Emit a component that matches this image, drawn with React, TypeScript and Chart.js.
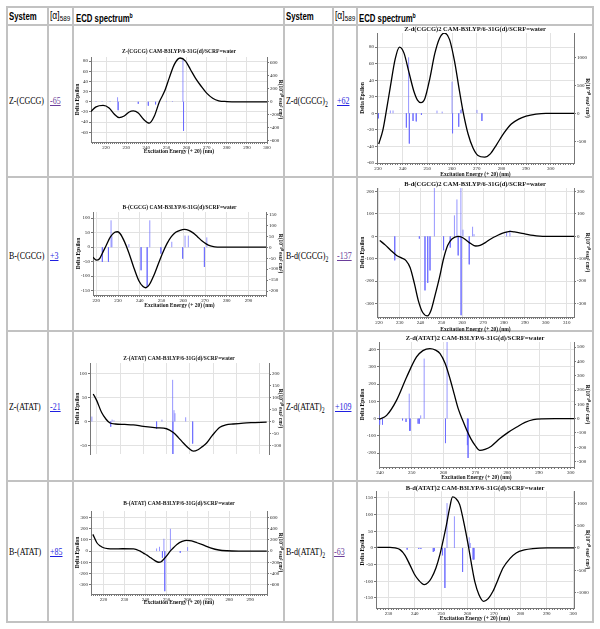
import React, { useEffect, useRef } from "react";
import { Chart, registerables } from "chart.js";
Chart.register(...registerables);

const SERIF = "'Liberation Serif', 'Times New Roman', serif";
const SANS = "'Liberation Sans', Arial, sans-serif";

// ---------- table content ----------
const leftSystems = ["Z-(CGCG)", "B-(CGCG)", "Z-(ATAT)", "B-(ATAT)"];
const leftRotations = ["-65", "+3", "-21", "+85"];
const rightSystems = ["Z-d(CGCG)", "B-d(CGCG)", "Z-d(ATAT)", "B-d(ATAT)"];
const rightRotations = ["+62", "-137", "+109", "-63"];
const visited = [true, false, false, true, false, false, false, true]; // left0,right0,left1,right1...
const chartTitles = [
  "Z-(CGCG) CAM-B3LYP/6-31G(d)/SCRF=water",
  "Z-d(CGCG)2 CAM-B3LYP/6-31G(d)/SCRF=water",
  "B-(CGCG) CAM-B3LYP/6-31G(d)/SCRF=water",
  "B-d(CGCG)2 CAM-B3LYP/6-31G(d)/SCRF=water",
  "Z-(ATAT) CAM-B3LYP/6-31G(d)/SCRF=water",
  "Z-d(ATAT)2 CAM-B3LYP/6-31G(d)/SCRF=water",
  "B-(ATAT) CAM-B3LYP/6-31G(d)/SCRF=water",
  "B-d(ATAT)2 CAM-B3LYP/6-31G(d)/SCRF=water",
];
const xAxisTitle = "Excitation Energy (+ 20) (nm)";
const leftAxisTitle = "Delta Epsilon";
const rightAxisTitle = "R(10\u207B\u2074\u2070 esu\u00B2 cm\u00B2)";

// ---------- spectra: [wavelength, delta epsilon] curves and [wavelength, R] sticks ----------
const zCGCG_curve: [number, number][] = [
  [212.5, -19], [215, -10], [218.5, -7], [221.5, -12], [224, -24], [226.5, -31], [229, -28],
  [231.5, -20], [233.5, -18], [236, -22], [238.5, -34], [241.5, -42], [244, -28], [246.5, 0],
  [249, 20], [251.5, 48], [254, 74], [256.8, 86], [259.5, 80], [262, 63], [264.5, 46], [267, 32],
  [270, 17], [273, 7], [276, 2], [280, 0.5], [286, 0], [300, 0],
];
const zCGCG_sticks: [number, number][] = [
  [215, 10], [218, 8], [222, 10], [225.7, 70], [226, -130], [236, -30], [241, -60],
  [244.6, -40], [250, 8], [253, 10], [258.2, 650], [258.5, -450],
];

const zdCGCG_curve: [number, number][] = [
  [230.3, -37], [232, -20], [233.5, 5], [235, 32], [237, 66], [238.7, 80], [240.5, 73],
  [242.5, 50], [244.5, 27], [246, 16], [247.4, 13], [249, 18], [251, 42], [253, 72], [255, 91],
  [256.9, 97], [259, 89], [261, 63], [263, 27], [264.6, 0], [266.5, -25], [268.5, -42],
  [270.5, -51], [273.2, -53], [275.5, -49], [278, -38], [281, -24], [284, -13], [287, -7],
  [290, -3.5], [294, -1], [298, 0], [309.4, 0],
];
const zdCGCG_sticks: [number, number][] = [
  [230.2, -90], [235, 50], [236.1, 50], [241.5, -255], [242.4, 1000], [242.7, -540],
  [244.2, -137], [245.5, -145], [247.6, -30], [253.9, 48], [256, 30], [260, 565],
  [260.2, -357], [262.7, -240], [263.4, 60], [263.9, 77], [270.1, 60], [272.1, -137],
];

const bCGCG_curve: [number, number][] = [
  [218.5, -35], [220, -45], [221.5, -40], [223, -18], [224.5, 5], [226.5, 35], [228.5, 51],
  [229.8, 53], [231, 46], [233, 18], [235, -20], [237, -65], [239.5, -115], [241.5, -136],
  [242.8, -140], [244.5, -128], [246.5, -97], [248.5, -58], [250.5, -20], [252.5, 12],
  [254.5, 36], [256.5, 51], [258.5, 58], [260.5, 61], [262.5, 58], [264.5, 49], [266.5, 36],
  [268.5, 22], [270.5, 11], [272.5, 4], [274.5, 1], [277, 0], [298, 0],
];
const bCGCG_sticks: [number, number][] = [
  [222.8, -67], [225.6, -67], [226.8, 123], [227.2, 50], [235, 14], [240.6, -105],
  [243.4, -180], [244.6, 123], [249.7, -29], [254.7, 25], [259.7, -52], [260.8, 53],
  [262.3, 53], [269.7, -90], [270.8, 45],
];

const bdCGCG_curve: [number, number][] = [
  [220.4, -18], [223, -38], [226, -65], [228.5, -85], [231, -97], [233, -108], [235, -140],
  [237, -210], [239, -290], [241, -340], [243.3, -355], [245, -330], [247, -260], [249, -185],
  [251, -100], [253, -40], [255, -12], [257.9, 0], [260, -5], [262, -18], [264, -32],
  [266.4, -43], [268.5, -40], [271, -28], [273, -15], [275, -4], [277, 5], [279, 13], [281, 19],
  [283, 22], [285, 20], [288, 15], [291, 9], [294, 4], [297, 1], [300, 0], [313.5, 0],
];
const bdCGCG_sticks: [number, number][] = [
  [227.6, -107], [239.4, -10], [242.1, -241], [243.4, -208], [244.5, -152], [246.6, 260],
  [251, -62], [254.2, -50], [256.2, 94], [257.4, 165], [258, -85], [259.3, 300], [259.4, -352],
  [260.3, 30], [263.3, -125], [264.9, 43], [265.6, 10], [281.2, 20], [282.8, 27],
];

const zATAT_curve: [number, number][] = [
  [218.5, 58], [220, 44], [222.1, 19], [224, 5], [225.7, -3], [228, -5], [232, -6],
  [235.7, -7], [240, -10], [245.7, -13], [250, -15], [252.9, -23], [255, -33], [257.2, -45],
  [259.5, -56], [261.5, -62], [263.5, -59], [265.5, -52], [267.2, -45], [269.5, -30],
  [272.9, -12], [275.5, -7], [278.6, -5], [283, -3], [288, -2], [293, -1],
];
const zATAT_sticks: [number, number][] = [
  [217.9, 21], [226, -22], [226.6, 8], [227.4, 5], [245.7, -30], [248, 8], [252.6, 176],
  [252.7, -140], [253.2, 48], [253.6, 35], [258.2, 18], [261.2, -93],
];

const zdATAT_curve: [number, number][] = [
  [239.7, -4], [242.1, 19], [245.2, 106], [248.4, 242], [251.5, 358], [253.5, 395],
  [255.7, 407], [257.5, 398], [258.9, 378], [260.5, 320], [262, 233], [263.3, 145],
  [264.6, 58], [266, -10], [267.3, -68], [268.6, -118], [269.9, -155], [271.4, -184],
  [273, -178], [275, -160], [277.7, -116], [280.3, -80], [283, -49], [285.6, -22],
  [288.2, -6], [291, -1], [295, 0], [301, 0],
];
const zdATAT_sticks: [number, number][] = [
  [239.8, 23], [239.9, -42], [240.8, -42], [247.1, -12], [248.2, -23], [249.2, 175],
  [249.3, -84], [249.5, -84], [252, -35], [252.4, -35], [252.8, 23], [253.9, 420],
  [260.6, -171], [261.1, 560], [267.5, -185], [267.7, -275],
];

const bATAT_curve: [number, number][] = [
  [214.9, 150], [216.8, 75], [218.5, 45], [220, 30], [222, 22], [224.8, 20], [229, 21],
  [234.3, 20], [236, 12], [237.5, 0], [239, -18], [240.7, -36], [242.5, -60], [244.5, -85],
  [246.3, -100], [247.5, -95], [248.6, -75], [250.2, -40], [251.8, 0], [253.5, 33], [255, 60],
  [257.5, 87], [259.8, 97], [262, 92], [264.6, 75], [267.5, 55], [271, 30], [275, 10],
  [278.9, 3], [285, 0.5], [297.9, 0],
];
const bATAT_sticks: [number, number][] = [
  [245.3, 48], [246.7, 78], [248.1, -120], [248.8, 222], [249.2, -720], [251.9, 400],
  [256.6, -30], [260.1, 72],
];

const bdATAT_curve: [number, number][] = [
  [225.8, 2], [230.6, 2], [232.5, 0], [234.4, -5], [236.3, -22], [238.1, -50], [239.8, -78],
  [241.3, -95], [243.6, -110], [245, -104], [246.3, -90], [248, -60], [249.5, -20],
  [250.8, 25], [252, 70], [253.2, 120], [254.3, 153], [255.6, 148], [257, 130], [258.6, 75],
  [260.2, 10], [261.5, -50], [262.7, -100], [264.3, -140], [266.1, -160], [267.8, -152],
  [269.6, -130], [271.5, -95], [273.4, -60], [276, -32], [278.4, -15], [281.5, -6],
  [284.7, -2], [290, 0], [300.3, 0],
];
const bdATAT_sticks: [number, number][] = [
  [237.1, -38], [241.5, -20], [242.3, -20], [247, -90], [247.4, -70], [250.5, -165],
  [251.4, -900], [252.2, 1010], [255, 713], [258.1, -540], [260.6, 240], [261, 113],
  [262.1, -260], [262.4, -260],
];

// ---------- axis ranges ----------
const xRanges: [number, number][] = [
  [212.5, 300], [229.6, 309.4], [218.5, 298], [219.1, 313.5],
  [217.1, 294], [239.7, 301], [214, 298], [225.3, 300.3],
];
const leftRanges: [number, number, number][] = [
  [-79, 88, 20], [-60, 97, 20], [-165, 121, 50], [-360, 216, 100],
  [-68, 123, 50], [-281, 445, 100], [-385, 360, 100], [-180, 170, 50],
];
const rightRanges: [number, number, number][] = [
  [-620, 691, 200], [-888, 1434, 500], [-218, 161, 50], [-360, 216, 100],
  [-137, 247, 50], [-338, 536, 100], [-770, 720, 200], [-1351, 1277, 500],
];
const curves = [zCGCG_curve, zdCGCG_curve, bCGCG_curve, bdCGCG_curve, zATAT_curve, zdATAT_curve, bATAT_curve, bdATAT_curve];
const sticks = [zCGCG_sticks, zdCGCG_sticks, bCGCG_sticks, bdCGCG_sticks, zATAT_sticks, zdATAT_sticks, bATAT_sticks, bdATAT_sticks];

// ---------- layout (page px) ----------
type Box = { l: number; t: number; r: number; b: number };
const layouts: { box: Box; plot: Box; titleY: number; titleSize: number; xLabels: boolean }[] = [
  { box: { l: 74, t: 46, r: 284, b: 155 }, plot: { l: 91, t: 57, r: 267, b: 142 }, titleY: 52, titleSize: 5.5, xLabels: true },
  { box: { l: 359, t: 24, r: 591, b: 178 }, plot: { l: 377, t: 33, r: 574, b: 163 }, titleY: 29, titleSize: 6.5, xLabels: true },
  { box: { l: 75, t: 202, r: 284, b: 309 }, plot: { l: 93, t: 212, r: 266, b: 295 }, titleY: 207.5, titleSize: 5.5, xLabels: true },
  { box: { l: 359, t: 179, r: 591, b: 333 }, plot: { l: 377, t: 188, r: 574, b: 317 }, titleY: 184.3, titleSize: 6.5, xLabels: true },
  { box: { l: 74, t: 353, r: 284, b: 458 }, plot: { l: 90, t: 363, r: 269, b: 458 }, titleY: 359, titleSize: 5.5, xLabels: false },
  { box: { l: 359, t: 333, r: 591, b: 481 }, plot: { l: 379, t: 342, r: 574, b: 467 }, titleY: 338.3, titleSize: 6.5, xLabels: true },
  { box: { l: 74, t: 498, r: 284, b: 606 }, plot: { l: 91, t: 511, r: 267, b: 594 }, titleY: 504, titleSize: 5.5, xLabels: true },
  { box: { l: 359, t: 482, r: 591, b: 622 }, plot: { l: 376, t: 491, r: 574, b: 608 }, titleY: 488, titleSize: 6.5, xLabels: true },
];

const stepTicks = (step: number) => (sc: any) => {
  const t: { value: number }[] = [];
  for (let v = Math.ceil(sc.min / step) * step; v <= sc.max + 1e-9; v += step) t.push({ value: v });
  sc.ticks = t;
};

function Spectrum({ idx }: { idx: number }) {
  const ref = useRef<HTMLCanvasElement | null>(null);
  const L = layouts[idx];
  const w = Math.round(L.box.r - L.box.l);
  const h = Math.round(L.box.b - L.box.t);
  useEffect(() => {
    const canvas = ref.current;
    if (!canvas) return;
    const leftW = L.plot.l - L.box.l;
    const rightW = L.box.r - L.plot.r;
    const bottomH = L.box.b - L.plot.b;
    const ts = L.titleSize;
    const pt = Math.max(0, L.titleY - ts / 2 - L.box.t);
    const pb = Math.max(0, L.plot.t - L.box.t - ts - pt);
    const curve = curves[idx].map(([x, y]) => ({ x, y }));
    const st: { x: number; y: number | null }[] = [];
    sticks[idx].forEach(([x, r]) => {
      st.push({ x, y: 0 }, { x, y: r }, { x, y: null });
    });
    const tickFont = { family: SERIF, size: 5 };
    const axFont = { family: SERIF, size: 5.5, weight: "bold" as const, lineHeight: 1.2 };
    const [xmin, xmax] = xRanges[idx];
    const [ymin, ymax, ystep] = leftRanges[idx];
    const [y2min, y2max, y2step] = rightRanges[idx];
    const chart = new Chart(canvas, {
      type: "line",
      data: {
        datasets: [
          {
            data: curve,
            yAxisID: "y",
            borderColor: "#000",
            borderWidth: 1.3,
            pointRadius: 0,
            cubicInterpolationMode: "monotone",
            order: 0,
          } as any,
          {
            data: st,
            yAxisID: "y2",
            borderColor: "rgba(105,105,255,0.7)",
            borderWidth: 1,
            pointRadius: 0,
            tension: 0,
            spanGaps: false,
            order: 1,
          } as any,
        ],
      },
      options: {
        responsive: false,
        animation: false,
        events: [],
        layout: { padding: 0 },
        plugins: {
          legend: { display: false },
          tooltip: { enabled: false },
          title: {
            display: true,
            text: chartTitles[idx],
            color: "#111",
            font: { family: SERIF, size: ts, weight: "bold", lineHeight: 1 },
            padding: { top: pt, bottom: pb },
          },
        },
        scales: {
          x: {
            type: "linear",
            min: xmin,
            max: xmax,
            afterBuildTicks: (sc: any) => {
              const t: { value: number }[] = [];
              for (let v = Math.ceil(sc.min); v <= Math.floor(sc.max); v++) t.push({ value: v });
              sc.ticks = t;
            },
            afterFit: (sc: any) => {
              sc.height = bottomH;
            },
            ticks: {
              display: L.xLabels,
              autoSkip: false,
              maxRotation: 0,
              minRotation: 0,
              font: tickFont,
              color: "#222",
              padding: 1,
              callback: (v: any) => (Number(v) % 10 === 0 ? String(v) : ""),
            },
            grid: {
              color: (c: any) => (c.tick && c.tick.value % 10 === 0 ? "#e2e2e2" : "rgba(0,0,0,0)"),
              tickColor: "#777",
              tickLength: 2,
              drawTicks: L.xLabels,
            },
            border: { display: L.xLabels, color: "#777" },
            title: { display: L.xLabels, text: xAxisTitle, font: axFont, color: "#111", padding: 0 },
          },
          y: {
            position: "left",
            min: ymin,
            max: ymax,
            afterBuildTicks: stepTicks(ystep),
            afterFit: (sc: any) => {
              sc.width = leftW;
            },
            ticks: {
              font: tickFont,
              color: "#222",
              padding: 1,
              callback: (v: any) => String(v),
            },
            grid: { color: "#e2e2e2", tickColor: "#777", tickLength: 2 },
            border: { color: "#777" },
            title: { display: true, text: leftAxisTitle, font: axFont, color: "#111", padding: 0 },
          },
          y2: {
            position: "right",
            min: y2min,
            max: y2max,
            afterBuildTicks: stepTicks(y2step),
            afterFit: (sc: any) => {
              sc.width = rightW;
            },
            ticks: {
              font: tickFont,
              color: "#222",
              padding: 1,
              callback: (v: any) => String(v),
            },
            grid: { drawOnChartArea: false, tickColor: "#777", tickLength: 2 },
            border: { color: "#777" },
            title: { display: true, text: rightAxisTitle, font: axFont, color: "#111", padding: 0 },
          },
        },
      } as any,
    });
    return () => chart.destroy();
  }, [idx]);
  return (
    <canvas
      ref={ref}
      width={w}
      height={h}
      style={{ position: "absolute", left: Math.round(L.box.l), top: Math.round(L.box.t), width: w, height: h }}
    />
  );
}

const COL_X = [7, 48, 73, 284, 333, 357, 593];
const ROW_Y = [7, 25, 177, 331, 481, 622];
const ROW_CY = [101, 255.5, 407, 552];

function Txt({ left, cy, children, style }: { left: number; cy: number; children: any; style?: any }) {
  return (
    <div
      style={{
        position: "absolute",
        left,
        top: cy - 8,
        height: 16,
        lineHeight: "16px",
        whiteSpace: "nowrap",
        transformOrigin: "left center",
        ...style,
      }}
    >
      {children}
    </div>
  );
}

export default function App() {
  const serifTxt = { fontFamily: SERIF, fontSize: 10.5, transform: "scaleX(0.76)", color: "#000" };
  const headTxt = { fontFamily: SANS, fontSize: 10.5, fontWeight: "bold", transform: "scaleX(0.74)", color: "#000" };
  const link = (v: string, vis: boolean) => (
    <a href="#" style={{ color: vis ? "#6a3d9a" : "#1f1fe0", textDecoration: "underline" }}>
      {v}
    </a>
  );
  return (
    <div style={{ position: "absolute", left: 0, top: 0, width: 600, height: 629, background: "#fff", overflow: "hidden" }}>
      {COL_X.map((x, i) => (
        <div key={"v" + i} style={{ position: "absolute", left: x - 1, top: ROW_Y[0] - 1, width: 2, height: ROW_Y[ROW_Y.length - 1] - ROW_Y[0] + 2, background: "#c2c2c2" }} />
      ))}
      {ROW_Y.map((y, i) => (
        <div key={"h" + i} style={{ position: "absolute", left: COL_X[0] - 1, top: y - 1, width: COL_X[COL_X.length - 1] - COL_X[0] + 2, height: 2, background: "#c2c2c2" }} />
      ))}
      {[0, 1].map((side) => {
        const off = side === 0 ? 0 : 277;
        return (
          <React.Fragment key={"hd" + side}>
            <Txt left={9 + off} cy={16} style={headTxt}>System</Txt>
            <Txt left={side === 0 ? 50 : 335} cy={16} style={{ fontFamily: SANS, fontSize: 10, transform: "scaleX(0.85)" }}>
              [α]<span style={{ fontSize: 7.5, verticalAlign: "-2px" }}>589</span>
            </Txt>
            <Txt left={side === 0 ? 76 : 359} cy={16} style={headTxt}>
              ECD spectrum<sup style={{ fontSize: 7, verticalAlign: "4px" }}>b</sup>
            </Txt>
          </React.Fragment>
        );
      })}
      {ROW_CY.map((cy, r) => (
        <React.Fragment key={"row" + r}>
          <Txt left={9} cy={cy} style={serifTxt}>{leftSystems[r]}</Txt>
          <Txt left={50} cy={cy} style={serifTxt}>{link(leftRotations[r], visited[r * 2])}</Txt>
          <Txt left={285.5} cy={cy} style={serifTxt}>
            {rightSystems[r]}
            <sub style={{ fontSize: 7.5 }}>2</sub>
          </Txt>
          <Txt left={[337, 337, 335, 334][r]} cy={cy} style={serifTxt}>{link(rightRotations[r], visited[r * 2 + 1])}</Txt>
        </React.Fragment>
      ))}
      {layouts.map((_, i) => (
        <Spectrum key={i} idx={i} />
      ))}
    </div>
  );
}
